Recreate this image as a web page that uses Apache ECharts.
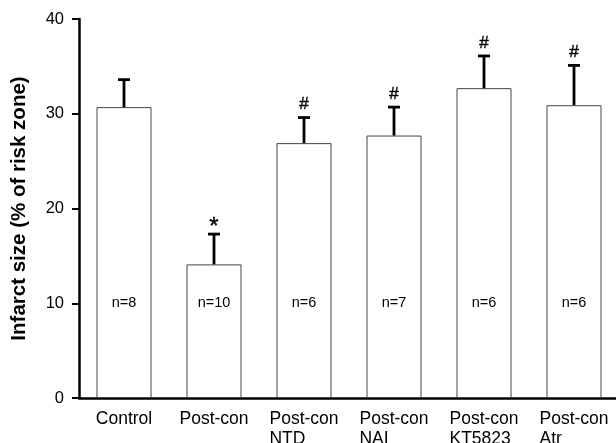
<!DOCTYPE html>
<html>
<head>
<meta charset="utf-8">
<script src="https://cdn.jsdelivr.net/npm/echarts@6/dist/echarts.min.js"></script>
<style>
html,body{margin:0;padding:0;background:#fff;}
#chart{width:616px;height:443px;}
</style>
</head>
<body>
<div id="chart"></div>
<script>
var categories = ["Control", "Post-con", "Post-con\nNTD", "Post-con\nNAI", "Post-con\nKT5823", "Post-con\nAtr"];
var means = [30.7, 14.1, 26.9, 27.7, 32.7, 30.9];
var errors = [2.9, 3.2, 2.7, 3.0, 3.4, 4.2];
var nLabels = ["n=8", "n=10", "n=6", "n=7", "n=6", "n=6"];
var sigMarks = ["", "*", "#", "#", "#", "#"];
var nLabelValue = 10;
var yTicks = [0, 10, 20, 30, 40];

var FONT = '"Liberation Sans", Arial, Helvetica, sans-serif';
var chart = echarts.init(document.getElementById('chart'), null, {renderer: 'canvas'});

var errData = means.map(function (m, i) { return [i, m, m + errors[i]]; });
var nData = nLabels.map(function (t, i) { return [i, nLabelValue]; });

chart.setOption({
  animation: false,
  backgroundColor: '#fff',
  grid: {left: 79, top: 19, width: 540, height: 379, containLabel: false, outerBoundsMode: 'none'},
  xAxis: {
    type: 'category',
    data: categories,
    axisLine: {lineStyle: {color: '#000', width: 2.5}},
    axisTick: {show: false},
    axisLabel: {
      margin: 11,
      interval: 0,
      formatter: function (v) {
        return v.split('\n').map(function (s) { return '{a|' + s + '}'; }).join('\n');
      },
      rich: {a: {fontSize: 17.5, fontFamily: FONT, color: '#000', align: 'left', lineHeight: 20}}
    },
    splitLine: {show: false}
  },
  yAxis: {
    type: 'value',
    min: yTicks[0],
    max: yTicks[yTicks.length - 1],
    interval: 10,
    name: 'Infarct size (% of risk zone)',
    nameLocation: 'middle',
    nameRotate: 90,
    nameGap: 49,
    nameTextStyle: {fontSize: 20.5, fontWeight: 'bold', fontFamily: FONT, color: '#000'},
    axisLine: {show: true, lineStyle: {color: '#000', width: 2.5}},
    axisTick: {show: true, length: 7, lineStyle: {color: '#000', width: 2}},
    axisLabel: {fontSize: 16.5, fontFamily: FONT, color: '#000', margin: 15},
    splitLine: {show: false}
  },
  series: [
    {
      type: 'bar',
      data: means,
      barWidth: 55,
      itemStyle: {color: '#fff', borderColor: '#444', borderWidth: 1},
      z: 2
    },
    {
      type: 'custom',
      data: errData,
      z: 5,
      renderItem: function (params, api) {
        var x = api.coord([api.value(0), 0])[0];
        var yb = api.coord([0, api.value(1)])[1];
        var yt = api.coord([0, api.value(2)])[1];
        var mark = sigMarks[params.dataIndex];
        var children = [
          {type: 'line', shape: {x1: x, y1: yb, x2: x, y2: yt}, style: {stroke: '#000', lineWidth: 2.8}},
          {type: 'line', shape: {x1: x - 6, y1: yt, x2: x + 6, y2: yt}, style: {stroke: '#000', lineWidth: 2.8}}
        ];
        if (mark) {
          var isStar = mark === '*';
          children.push({
            type: 'text',
            style: {
              x: x, y: isStar ? yt - 7 : yt - 13,
              text: mark,
              fill: '#000',
              font: (isStar ? '24px ' : '17px ') + FONT,
              align: 'center',
              verticalAlign: 'middle',
              stroke: '#000',
              lineWidth: 0.4
            }
          });
        }
        return {type: 'group', children: children};
      }
    },
    {
      type: 'custom',
      data: nData,
      z: 6,
      renderItem: function (params, api) {
        var p = api.coord([api.value(0), api.value(1)]);
        return {
          type: 'text',
          style: {
            x: p[0], y: p[1],
            text: nLabels[params.dataIndex],
            fill: '#000',
            font: '14.5px ' + FONT,
            align: 'center',
            verticalAlign: 'middle'
          }
        };
      }
    }
  ]
});
</script>
</body>
</html>
